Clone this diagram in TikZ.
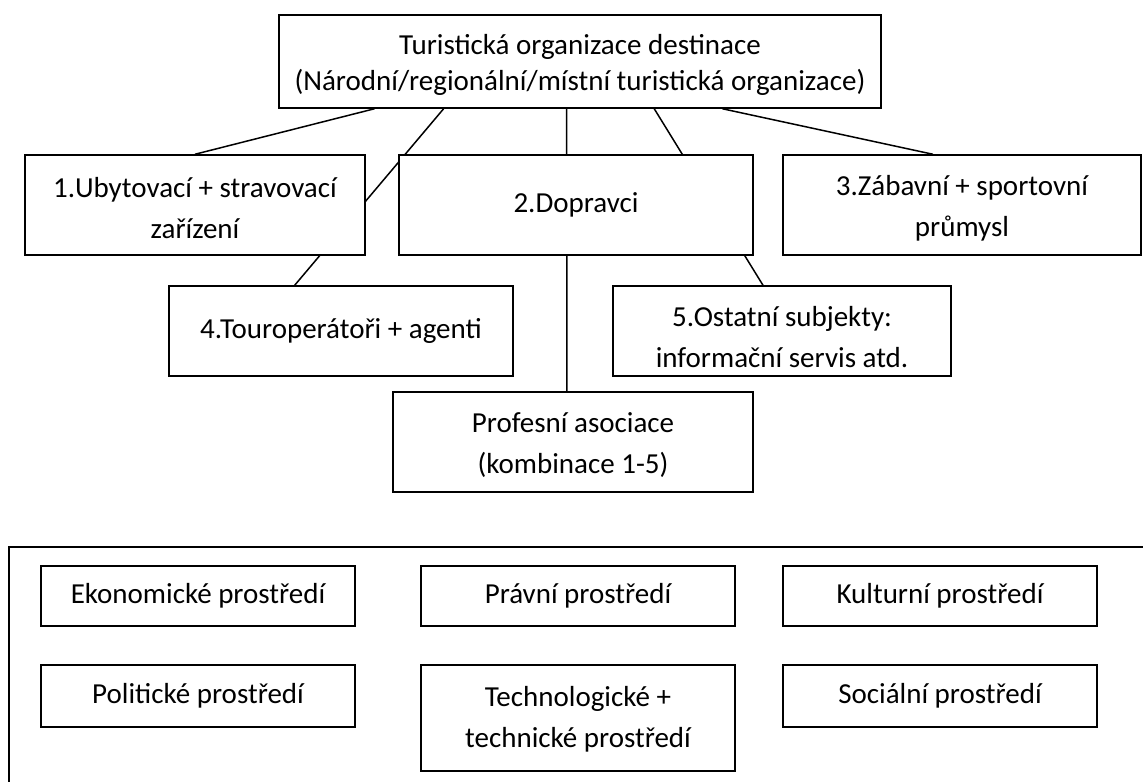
\documentclass[tikz,border=0pt]{standalone}
\usepackage{fontspec}
\setmainfont{Carlito}
\usetikzlibrary{calc,backgrounds}
\tikzset{
  box/.style={draw=black, line width=1.5pt, fill=white, rectangle, inner sep=0pt, align=center,
    font=\fontsize{29}{41}\selectfont},
  txt/.style={inner sep=0pt, align=center, font=\fontsize{29}{41}\selectfont},
  conn/.style={draw=black, line width=1.5pt}
}
\begin{document}
\begin{tikzpicture}[x=1pt,y=-1pt]
\useasboundingbox (0,0) rectangle (1143,782);
% hierarchy
\node[box, minimum width=602pt, minimum height=93pt] (top) at (580,61.5) {};
\node[txt, font=\fontsize{29}{36}\selectfont] (topt) at ($(top.center)+(0,3)$) {Turistická organizace destinace\\(Národní/regionální/místní turistická organizace)};
\node[box, minimum width=340pt, minimum height=100pt] (b1) at (195,205) {};
\node[txt] (b1t) at ($(b1.center)+(0,3)$) {1.Ubytovací + stravovací\\zařízení};
\node[box, minimum width=354pt, minimum height=100pt] (b2) at (576,205) {2.Dopravci};
\node[box, minimum width=358pt, minimum height=100pt] (b3) at (962,205) {};
\node[txt] (b3t) at ($(b3.center)+(0,3)$) {3.Zábavní + sportovní\\průmysl};
\node[box, minimum width=344pt, minimum height=90pt] (b4) at (341,331) {4.Touroperátoři + agenti};
\node[box, minimum width=338pt, minimum height=90pt] (b5) at (782,331) {};
\node[txt] (b5t) at ($(b5.center)+(0,6)$) {5.Ostatní subjekty:\\informační servis atd.};
\node[box, minimum width=360pt, minimum height=100pt] (prof) at (573,442) {};
\node[txt] (proft) at ($(prof.center)+(0,3)$) {Profesní asociace\\(kombinace 1-5)};
\begin{pgfonlayer}{background}
\draw[conn] ($(top.south west)!0.1595!(top.south east)$) -- (b1.north);
\draw[conn] ($(top.south west)!0.274!(top.south east)$) -- ($(b4.north west)!0.366!(b4.north east)$);
\draw[conn] ($(top.south west)!0.478!(top.south east)$) -- ($(prof.north west)!0.483!(prof.north east)$);
\draw[conn] ($(top.south west)!0.623!(top.south east)$) -- ($(b5.north west)!0.444!(b5.north east)$);
\draw[conn] ($(top.south west)!0.736!(top.south east)$) -- ($(b3.north west)!0.419!(b3.north east)$);
\end{pgfonlayer}
% environment frame
\coordinate (frTR) at (1143,547);
\coordinate (frTL) at (9,547);
\coordinate (frBL) at (9,782);
\draw[conn] (frTR) -- (frTL) -- (frBL);
\node[box, minimum width=314pt, minimum height=60pt] (e1) at (198,596) {Ekonomické prostředí};
\node[box, minimum width=314pt, minimum height=60pt] (e2) at (578,596) {Právní prostředí};
\node[box, minimum width=314pt, minimum height=60pt] (e3) at (940,596) {Kulturní prostředí};
\node[box, minimum width=314pt, minimum height=62pt] (e4) at (198,696) {Politické prostředí};
\node[box, minimum width=314pt, minimum height=106pt] (e5) at (578,718) {};
\node[txt] (e5t) at ($(e5.center)+(0,1)$) {Technologické +\\technické prostředí};
\node[box, minimum width=314pt, minimum height=62pt] (e6) at (940,696) {Sociální prostředí};
\end{tikzpicture}
\end{document}
